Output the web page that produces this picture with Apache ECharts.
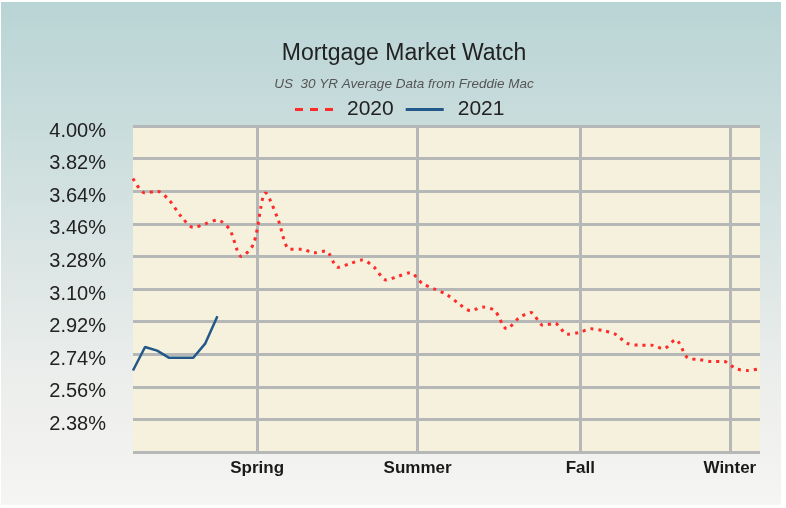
<!DOCTYPE html>
<html>
<head>
<meta charset="utf-8">
<script src="https://cdn.jsdelivr.net/npm/echarts@6/dist/echarts.min.js"></script>
<style>
  html, body { margin: 0; padding: 0; background: #ffffff; }
  #frame {
    position: absolute; left: 1px; top: 2px; width: 780px; height: 503px;
    background: linear-gradient(to bottom, #b9d4d5 0%, #d0e0df 35%, #eceeec 75%, #f5f5f3 100%);
  }
  #chart { position: absolute; left: -1px; top: -2px; width: 786px; height: 508px; }
</style>
</head>
<body>
<div id="frame"><div id="chart"></div></div>
<script>
// weekly 30yr average rates (Freddie Mac)
const rates2020 = [3.71, 3.63, 3.64, 3.59, 3.50, 3.44, 3.46, 3.48, 3.43, 3.28,
                   3.35, 3.63, 3.49, 3.32, 3.32, 3.30, 3.31, 3.22, 3.24, 3.26,
                   3.22, 3.15, 3.17, 3.19, 3.13, 3.10, 3.07, 3.02, 2.98, 3.00,
                   2.98, 2.88, 2.94, 2.97, 2.90, 2.91, 2.85, 2.86, 2.88, 2.87,
                   2.85, 2.80, 2.79, 2.79, 2.77, 2.82, 2.72, 2.71, 2.70, 2.70,
                   2.66, 2.65, 2.66];
const rates2021 = [2.65, 2.78, 2.76, 2.72, 2.72, 2.72, 2.80, 2.95];

const seasonNames = ['Spring', 'Summer', 'Fall', 'Winter'];
const seasonWeeks = [10.3, 23.6, 37.1, 49.5];

const yMin = 2.20, yMax = 4.00, yStep = 0.18;

const FONT = 'Liberation Sans, Arial, sans-serif';
const toPairs = (arr) => arr.map((v, i) => [i, v]);

const chart = echarts.init(document.getElementById('chart'), null, { renderer: 'canvas' });

const option = {
    backgroundColor: 'transparent',
    animation: false,
    graphic: [
        {
            type: 'text', x: 404, y: 54,
            style: { text: 'Mortgage Market Watch', fill: '#222', fontSize: 23, fontFamily: FONT,
                     textAlign: 'center', textVerticalAlign: 'middle' }
        },
        {
            type: 'text', x: 404, y: 84,
            style: { text: 'US  30 YR Average Data from Freddie Mac', fill: '#555', fontSize: 13.5,
                     fontStyle: 'italic', fontFamily: FONT,
                     textAlign: 'center', textVerticalAlign: 'middle' }
        }
    ],
    legend: {
        left: 295,
        top: 99,
        padding: 0,
        itemWidth: 38,
        itemHeight: 3,
        itemGap: 12,
        textStyle: { fontSize: 21, color: '#222', fontFamily: FONT, padding: [0, 0, 0, 9] },
        data: [
            { name: '2020', icon: 'path://M0,0h8v3h-8z M15,0h8v3h-8z M30,0h8v3h-8z' },
            { name: '2021', icon: 'path://M0,0h38v3h-38z' }
        ]
    },
    grid: {
        left: 133, right: 26, top: 126, bottom: 56,
        show: true,
        backgroundColor: '#f5f1dc',
        borderWidth: 0
    },
    xAxis: {
        type: 'value',
        min: 0,
        max: rates2020.length - 1,
        axisLine: { show: false },
        axisTick: { show: false },
        axisLabel: { show: false },
        splitLine: { show: false }
    },
    yAxis: {
        type: 'value',
        min: yMin,
        max: yMax,
        interval: yStep,
        axisLine: { show: false },
        axisTick: { show: false },
        splitLine: { lineStyle: { color: '#b5b8b7', width: 3 } },
        axisLabel: {
            margin: 27,
            fontSize: 20,
            color: '#222',
            verticalAlign: 'top',
            lineHeight: 10,
            fontFamily: FONT,
            formatter: (v) => v < yMin + 0.01 ? '' : v.toFixed(2) + '%'
        }
    },
    series: [
        {
            name: '2020',
            type: 'line',
            z: 3,
            symbol: 'none',
            smooth: 0.3,
            data: toPairs(rates2020),
            lineStyle: { color: '#ff2a2a', width: 3, type: [3, 5] },
            itemStyle: { color: '#ff2a2a' },
            markLine: {
                silent: true,
                z: 1,
                symbol: ['none', 'none'],
                lineStyle: { color: '#b5b8b7', width: 3, type: 'solid' },
                label: {
                    position: 'start',
                    distance: 8,
                    formatter: '{b}',
                    fontSize: 17,
                    fontWeight: 'bold',
                    color: '#1a1a1a',
                    fontFamily: FONT
                },
                data: seasonNames.map((n, i) => ({ name: n, xAxis: seasonWeeks[i] }))
            }
        },
        {
            name: '2021',
            type: 'line',
            z: 4,
            symbol: 'none',
            data: toPairs(rates2021),
            lineStyle: { color: '#22598a', width: 2.5 },
            itemStyle: { color: '#22598a' }
        }
    ]
};

chart.setOption(option);
</script>
</body>
</html>
